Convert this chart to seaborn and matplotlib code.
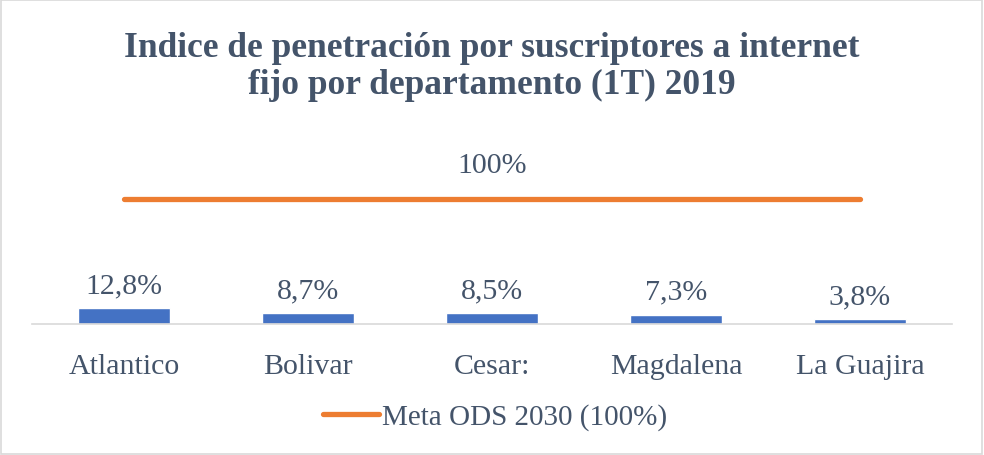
import matplotlib
matplotlib.use("Agg")
import matplotlib.pyplot as plt
import seaborn as sns
import numpy as np
import pandas as pd
from matplotlib.patches import Rectangle
from matplotlib.lines import Line2D

categories = ["Atlantico", "Bolivar", "Cesar:", "Magdalena", "La Guajira"]
penetracion = [12.8, 8.7, 8.5, 7.3, 3.8]
meta = [100, 100, 100, 100, 100]
value_labels = ["12,8%", "8,7%", "8,5%", "7,3%", "3,8%"]
meta_label = "100%"
legend_label = "Meta ODS 2030 (100%)"
title = "Indice de penetración por suscriptores a internet\nfijo por departamento (1T) 2019"

sns.set_theme(style="white")
plt.rcParams['font.family'] = ['Liberation Serif', 'DejaVu Serif']

TXT = "#44546A"
BLUE = "#4472C4"
ORANGE = "#ED7D31"
FS = 21.5

df = pd.DataFrame({"cat": categories, "val": penetracion})

fig = plt.figure(figsize=(9.84, 4.56), dpi=100)
ax = fig.add_axes([32/984, (456-325)/456, 920/984, 175/456])

sns.barplot(data=df, x="cat", y="val", color=BLUE, width=0.505, ax=ax, saturation=1)
xs = np.arange(len(categories))
sns.lineplot(x=xs, y=meta, color=ORANGE, linewidth=3.8, ax=ax, legend=False,
             solid_capstyle="round")

ax.set_xlim(-0.5, len(categories) - 0.5)
ax.set_ylim(0, 140)
ax.set_xlabel("")
ax.set_ylabel("")
ax.set_yticks([])
ax.tick_params(axis="x", length=0, pad=21, labelsize=FS, labelcolor=TXT)
for s in ["top", "right", "left"]:
    ax.spines[s].set_visible(False)
ax.spines["bottom"].set_color("#D9D9D9")
ax.spines["bottom"].set_linewidth(1.2)

for x, v, lab in zip(xs, penetracion, value_labels):
    ax.text(x, v + 8, lab, ha="center", va="bottom", fontsize=FS, color=TXT)
ax.text((xs[0] + xs[-1]) / 2, meta[2] + 17, meta_label, ha="center", va="bottom",
        fontsize=FS, color=TXT)

fig.text(0.5, 1 - 67/456, title, ha="center", va="center", fontsize=25.5, fontweight="bold",
         color=TXT, linespacing=1.13)

h = Line2D([0], [0], color=ORANGE, linewidth=3.8, solid_capstyle="round")
fig.legend([h], [legend_label], loc="center", bbox_to_anchor=(495/984, (456-418)/456),
           frameon=False, fontsize=21, labelcolor=TXT, handlelength=1.92, handletextpad=0.1)

fig.patches.append(Rectangle((0.001, 0.003), 0.997, 0.994, transform=fig.transFigure,
                             fill=False, edgecolor="#D9D9D9", linewidth=1.2))

fig.savefig("out.png", dpi=100)
